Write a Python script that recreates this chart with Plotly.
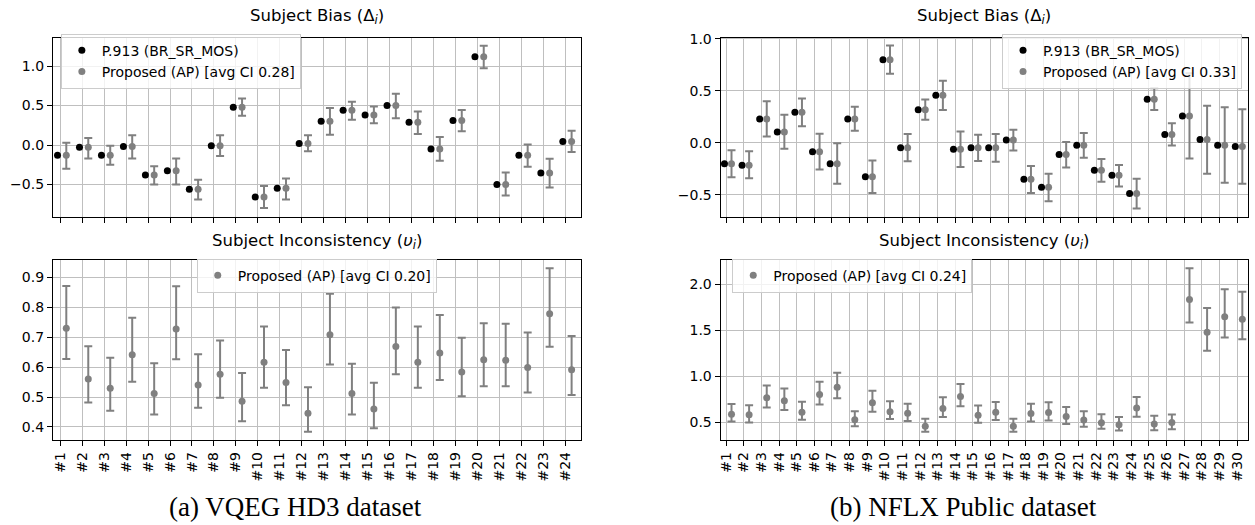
import plotly.graph_objects as go

# ---------------- DATA ----------------
subjects_a = [f"#{i}" for i in range(1, 25)]
subjects_b = [f"#{i}" for i in range(1, 31)]

# (a) VQEG HD3 - Subject bias
bias_p913_a = [-0.13, -0.03, -0.13, -0.02, -0.38, -0.325, -0.56, -0.01, 0.48, -0.66, -0.55, 0.02,
               0.30, 0.44, 0.38, 0.50, 0.29, -0.05, 0.31, 1.12, -0.50, -0.13, -0.355, 0.045]
bias_ap_a = [-0.13, -0.03, -0.13, -0.02, -0.38, -0.325, -0.56, -0.01, 0.48, -0.66, -0.55, 0.02,
             0.30, 0.44, 0.38, 0.50, 0.29, -0.05, 0.31, 1.12, -0.50, -0.13, -0.355, 0.045]
bias_hi_a = [0.03, 0.09, -0.01, 0.125, -0.27, -0.17, -0.44, 0.125, 0.59, -0.52, -0.425, 0.125,
             0.47, 0.55, 0.49, 0.65, 0.425, 0.10, 0.445, 1.26, -0.35, 0.005, -0.175, 0.18]
bias_lo_a = [-0.30, -0.17, -0.25, -0.17, -0.50, -0.50, -0.69, -0.14, 0.37, -0.80, -0.69, -0.08,
             0.13, 0.32, 0.275, 0.34, 0.14, -0.20, 0.175, 0.975, -0.64, -0.275, -0.54, -0.09]

# (a) VQEG HD3 - Subject inconsistency
inc_ap_a = [0.730, 0.560, 0.529, 0.641, 0.512, 0.727, 0.540, 0.576, 0.486, 0.616, 0.549, 0.446,
            0.708, 0.512, 0.460, 0.669, 0.616, 0.647, 0.584, 0.625, 0.623, 0.599, 0.778, 0.591]
inc_hi_a = [0.871, 0.670, 0.631, 0.765, 0.613, 0.870, 0.643, 0.689, 0.580, 0.736, 0.657, 0.533,
            0.845, 0.611, 0.548, 0.799, 0.736, 0.774, 0.698, 0.747, 0.745, 0.716, 0.930, 0.704]
inc_lo_a = [0.627, 0.482, 0.454, 0.551, 0.442, 0.626, 0.464, 0.498, 0.419, 0.531, 0.473, 0.384,
            0.609, 0.442, 0.396, 0.576, 0.531, 0.557, 0.503, 0.536, 0.536, 0.515, 0.668, 0.507]

# (b) NFLX Public - Subject bias
bias_p913_b = [-0.20, -0.215, 0.23, 0.104, 0.294, -0.085, -0.20, 0.23, -0.326, 0.80, -0.047, 0.32,
               0.459, -0.06, -0.047, -0.047, 0.028, -0.348, -0.427, -0.111, -0.022, -0.263, -0.31,
               -0.487, 0.421, 0.082, 0.26, 0.032, -0.022, -0.035]
bias_ap_b = [-0.20, -0.215, 0.23, 0.104, 0.294, -0.085, -0.20, 0.23, -0.326, 0.80, -0.047, 0.32,
             0.459, -0.06, -0.047, -0.047, 0.028, -0.348, -0.427, -0.111, -0.022, -0.263, -0.31,
             -0.487, 0.421, 0.082, 0.26, 0.032, -0.022, -0.035]
bias_hi_b = [-0.07, -0.08, 0.40, 0.27, 0.427, 0.089, -0.003, 0.348, -0.168, 0.937, 0.085, 0.418,
             0.598, 0.11, 0.079, 0.085, 0.127, -0.222, -0.297, 0.009, 0.095, -0.155, -0.212,
             -0.345, 0.525, 0.19, 0.67, 0.358, 0.342, 0.323]
bias_lo_b = [-0.33, -0.34, 0.063, -0.057, 0.161, -0.256, -0.392, 0.117, -0.481, 0.665, -0.177, 0.222,
             0.316, -0.231, -0.174, -0.18, -0.073, -0.481, -0.56, -0.237, -0.142, -0.373, -0.418,
             -0.63, 0.316, -0.025, -0.149, -0.297, -0.383, -0.392]

# (b) NFLX Public - Subject inconsistency
inc_ap_b = [0.586, 0.579, 0.765, 0.733, 0.607, 0.80, 0.88, 0.525, 0.711, 0.611, 0.597, 0.453,
            0.647, 0.779, 0.575, 0.607, 0.453, 0.593, 0.604, 0.561, 0.521, 0.493, 0.471, 0.654,
            0.479, 0.496, 1.835, 1.477, 1.646, 1.621]
inc_hi_b = [0.697, 0.683, 0.897, 0.865, 0.722, 0.94, 1.037, 0.618, 0.84, 0.726, 0.70, 0.536,
            0.769, 0.915, 0.679, 0.718, 0.536, 0.70, 0.715, 0.665, 0.618, 0.586, 0.554, 0.772,
            0.568, 0.582, 2.176, 1.742, 1.946, 1.918]
inc_lo_b = [0.507, 0.496, 0.658, 0.632, 0.525, 0.69, 0.758, 0.453, 0.611, 0.532, 0.511, 0.393,
            0.554, 0.672, 0.493, 0.521, 0.393, 0.507, 0.518, 0.479, 0.45, 0.428, 0.407, 0.557,
            0.41, 0.421, 1.585, 1.277, 1.42, 1.402]

legend_p913 = "P.913 (BR_SR_MOS)"
legend_ap = ["Proposed (AP) [avg CI 0.28]", "Proposed (AP) [avg CI 0.20]",
             "Proposed (AP) [avg CI 0.33]", "Proposed (AP) [avg CI 0.24]"]

# ---------------- FIGURE ----------------
W, H = 1255, 525
GRAY = "#808080"
FONT = "DejaVu Sans"

fig = go.Figure()

def px_x(p):
    return p / W

def px_y(p):
    return 1 - p / H

def add_err(x, c, hi, lo, xa, ya, name, legend):
    fig.add_trace(go.Scatter(
        x=x, y=c, mode="markers", name=name, legend=legend,
        xaxis=xa, yaxis=ya,
        marker=dict(color=GRAY, size=7),
        error_y=dict(type="data", symmetric=False,
                     array=[h - v for h, v in zip(hi, c)],
                     arrayminus=[v - l for v, l in zip(c, lo)],
                     color=GRAY, thickness=2, width=4),
    ))

def add_dots(x, y, xa, ya, name, legend):
    fig.add_trace(go.Scatter(
        x=x, y=y, mode="markers", name=name, legend=legend,
        xaxis=xa, yaxis=ya, marker=dict(color="black", size=7),
    ))

na, nb = len(subjects_a), len(subjects_b)
idx_a = list(range(1, na + 1))
idx_b = list(range(1, nb + 1))

add_dots([i - 0.12 for i in idx_a], bias_p913_a, "x", "y", legend_p913, "legend")
add_err([i + 0.28 for i in idx_a], bias_ap_a, bias_hi_a, bias_lo_a, "x", "y", legend_ap[0], "legend")
add_err([i + 0.28 for i in idx_a], inc_ap_a, inc_hi_a, inc_lo_a, "x2", "y2", legend_ap[1], "legend2")
add_dots([i - 0.10 for i in idx_b], bias_p913_b, "x3", "y3", legend_p913, "legend3")
add_err([i + 0.30 for i in idx_b], bias_ap_b, bias_hi_b, bias_lo_b, "x3", "y3", legend_ap[2], "legend3")
add_err([i + 0.30 for i in idx_b], inc_ap_b, inc_hi_b, inc_lo_b, "x4", "y4", legend_ap[3], "legend4")

common = dict(showgrid=True, gridcolor="#bfbfbf", gridwidth=1, zeroline=False,
              showline=True, mirror=True, linecolor="black", linewidth=1,
              ticks="outside", ticklen=5, tickcolor="black", tickwidth=1,
              tickfont=dict(family=FONT, size=14, color="black"))

def fmt(v):
    s = f"{v:.1f}"
    return s.replace("-", "\u2212")

dom_xa = [px_x(50), px_x(579)]
dom_xb = [px_x(719.3), px_x(1248.3)]
dom_top = [px_y(212.5), px_y(31)]
dom_bot = [px_y(439.3), px_y(256.7)]

ytop_a = [-0.5, 0.0, 0.5, 1.0]
ybot_a = [0.4, 0.5, 0.6, 0.7, 0.8, 0.9]
ytop_b = [-0.5, 0.0, 0.5, 1.0]
ybot_b = [0.5, 1.0, 1.5, 2.0]

fig.update_layout(
    width=W, height=H, margin=dict(l=0, r=0, t=0, b=0),
    paper_bgcolor="white", plot_bgcolor="white",
    font=dict(family=FONT, size=14, color="black"),
    xaxis=dict(domain=dom_xa, anchor="y", range=[0.669, 24.69], tickvals=idx_a,
               showticklabels=False, **common),
    yaxis=dict(domain=dom_top, anchor="x", range=[-0.909, 1.3625], tickvals=ytop_a,
               ticktext=[fmt(v) for v in ytop_a], **common),
    xaxis2=dict(domain=dom_xa, anchor="y2", range=[0.669, 24.69], tickvals=idx_a,
                ticktext=subjects_a, tickangle=-90, **common),
    yaxis2=dict(domain=dom_bot, anchor="x2", range=[0.355, 0.957], tickvals=ybot_a,
                ticktext=[fmt(v) for v in ybot_a], **common),
    xaxis3=dict(domain=dom_xb, anchor="y3", range=[0.68, 30.64], tickvals=idx_b,
                showticklabels=False, **common),
    yaxis3=dict(domain=dom_top, anchor="x3", range=[-0.709, 1.013], tickvals=ytop_b,
                ticktext=[fmt(v) for v in ytop_b], **common),
    xaxis4=dict(domain=dom_xb, anchor="y4", range=[0.68, 30.64], tickvals=idx_b,
                ticktext=subjects_b, tickangle=-90, **common),
    yaxis4=dict(domain=dom_bot, anchor="x4", range=[0.2995, 2.262], tickvals=ybot_b,
                ticktext=[fmt(v) for v in ybot_b], **common),
)

leg_style = dict(bgcolor="rgba(255,255,255,0.8)", bordercolor="#cccccc", borderwidth=1,
                 font=dict(family=FONT, size=14, color="black"), tracegroupgap=0)
fig.update_layout(
    legend=dict(x=px_x(58), y=px_y(27), xanchor="left", yanchor="top", **leg_style),
    legend2=dict(x=px_x(314.5), y=px_y(255), xanchor="center", yanchor="top", **leg_style),
    legend3=dict(x=px_x(1242), y=px_y(27), xanchor="right", yanchor="top", **leg_style),
    legend4=dict(x=px_x(731), y=px_y(255), xanchor="left", yanchor="top", **leg_style),
)

title_bias = "Subject Bias (\u0394<sub><i>i</i></sub>)"
title_inc = "Subject Inconsistency (<i>\u03c5</i><sub><i>i</i></sub>)"
annots = [
    (px_x(314.5), px_y(10), title_bias),
    (px_x(314.5), px_y(238), title_inc),
    (px_x(983.8), px_y(10), title_bias),
    (px_x(983.8), px_y(238), title_inc),
]
for x, y, t in annots:
    fig.add_annotation(x=x, y=y, xref="paper", yref="paper", text=t, showarrow=False,
                       xanchor="center", yanchor="middle",
                       font=dict(family=FONT, size=16.5, color="black"))

cap_font = dict(family="Liberation Serif, Times New Roman, serif", size=27, color="black")
fig.add_annotation(x=px_x(293), y=px_y(507), xref="paper", yref="paper",
                   text="(a) VQEG HD3 dataset", showarrow=False,
                   xanchor="center", yanchor="middle", font=cap_font)
fig.add_annotation(x=px_x(962.5), y=px_y(507), xref="paper", yref="paper",
                   text="(b) NFLX Public dataset", showarrow=False,
                   xanchor="center", yanchor="middle", font=cap_font)

fig.write_html("out.html", config={"displayModeBar": False},
               post_script="document.body.style.margin='0';"
                           "document.body.style.padding='0';"
                           "document.body.style.overflow='hidden';")
